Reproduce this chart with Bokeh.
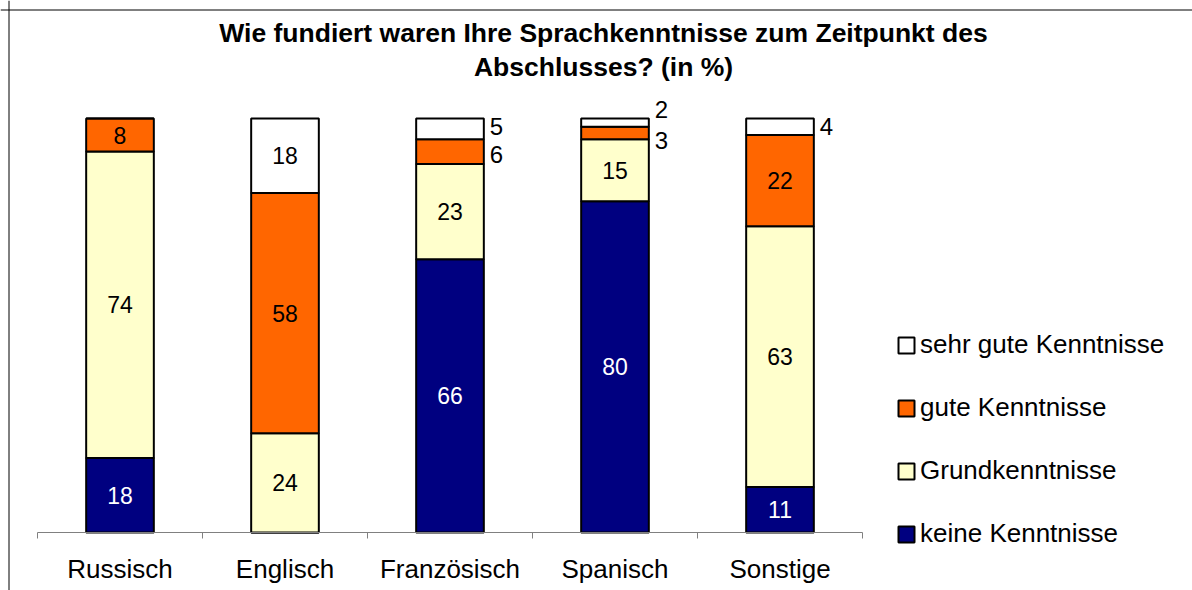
from bokeh.plotting import figure
from bokeh.models import (Range1d, FixedTicker, Label, Legend, LegendItem, ColumnDataSource,
                          LinearAxis, Span)
from bokeh.core.properties import value
from bokeh.embed import file_html
from bokeh.resources import INLINE

# ---- data ----
categories = ["Russisch", "Englisch", "Französisch", "Spanisch", "Sonstige"]
keine = [18, 0, 66, 80, 11]
grund = [74, 24, 23, 15, 63]
gute = [8, 58, 6, 3, 22]
sehr_gute = [0, 18, 5, 2, 4]
series_keys = ["keine", "grund", "gute", "sehr"]
series_names = ["keine Kenntnisse", "Grundkenntnisse", "gute Kenntnisse", "sehr gute Kenntnisse"]
title_lines = ["Wie fundiert waren Ihre Sprachkenntnisse zum Zeitpunkt des", "Abschlusses? (in %)"]

# ---- styles / layout (pixels) ----
W, H = 1192, 590
colors = ["#000080", "#FFFFCC", "#FF6600", "#FFFFFF"]
FONT = "Liberation Sans"
BAR_W = 0.41
AXIS_LEFT_PX = 37      # left end of category axis
CAT_PX = 165           # width of one category slot
BASE_PX = 532          # baseline (0 %)
TOP_PX = 118           # 100 %
# pixel nudges for small labels written beside the bars (category index, series index)
nudge = {(3, 3): -13, (3, 2): 8, (2, 2): 3, (2, 3): -2}

n = len(categories)
xs = list(range(1, n + 1))
series = [keine, grund, gute, sehr_gute]

x0 = 0.5 - AXIS_LEFT_PX / CAT_PX
x1 = x0 + W / CAT_PX
ppu = (BASE_PX - TOP_PX) / 100.0
y0 = -(H - BASE_PX) / ppu
y1 = BASE_PX / ppu

p = figure(width=W, height=H, x_range=Range1d(x0, x1), y_range=Range1d(y0, y1),
           output_backend="svg", toolbar_location=None,
           x_axis_location=None, y_axis_location=None,
           min_border=0, min_border_left=0, min_border_right=0,
           min_border_top=0, min_border_bottom=0)
p.xgrid.visible = False
p.ygrid.visible = False
p.outline_line_color = None

# chart border (top and left)
p.add_layout(Span(location=8.5, location_units="screen", dimension="height",
                  line_color="black", line_width=1))
p.add_layout(Span(location=H - 9.5, location_units="screen", dimension="width",
                  line_color="black", line_width=1))

src = ColumnDataSource(dict(x=xs, keine=keine, grund=grund, gute=gute, sehr=sehr_gute))
rs = p.vbar_stack(series_keys, x="x", width=BAR_W, source=src, fill_color=colors,
                  line_color="black", line_width=2)

# value labels
in_x, in_y, in_t, in_c = [], [], [], []
out_x, out_y, out_t, out_dy = [], [], [], []
for j, x in enumerate(xs):
    base = 0
    for k, s in enumerate(series):
        v = s[j]
        if v > 0:
            mid = base + v / 2
            if v >= 8:
                in_x.append(x); in_y.append(mid); in_t.append(str(v))
                in_c.append("white" if k == 0 else "black")
            else:
                out_x.append(x + BAR_W / 2); out_y.append(mid); out_t.append(str(v))
                out_dy.append(nudge.get((j, k), 0))
        base += v

p.text(x=in_x, y=in_y, text=in_t, text_color=in_c, text_align="center",
       text_baseline="middle", text_font=value(FONT), text_font_size="23px")
p.text(x=out_x, y=out_y, text=out_t, y_offset=out_dy, x_offset=6, text_color="black",
       text_align="left", text_baseline="middle", text_font=value(FONT), text_font_size="24px")

# category axis at the baseline
ax = LinearAxis(fixed_location=0, bounds=(0.5, n + 0.5))
ax.ticker = FixedTicker(ticks=xs, minor_ticks=[x - 0.5 for x in xs] + [xs[-1] + 0.5])
ax.major_label_overrides = {x: c for x, c in zip(xs, categories)}
ax.major_tick_line_color = None
ax.major_tick_out = 6
ax.major_tick_in = 0
ax.minor_tick_out = 6
ax.minor_tick_in = 0
ax.minor_tick_line_color = "#808080"
ax.axis_line_color = "#808080"
ax.major_label_standoff = 15
ax.major_label_text_font = FONT
ax.major_label_text_font_size = "26px"
ax.major_label_text_color = "black"
p.add_layout(ax, "below")

# legend
items = [LegendItem(label=series_names[i], renderers=[rs[i]]) for i in reversed(range(len(rs)))]
legend = Legend(items=items, location=(896, H - 549), padding=0, margin=0,
                background_fill_alpha=0, border_line_color=None,
                glyph_width=20, glyph_height=20, label_standoff=4,
                label_height=30, spacing=32,
                label_text_font=FONT, label_text_font_size="26px",
                label_text_color="black")
p.add_layout(legend, "center")

# title
for i, line in enumerate(title_lines):
    p.add_layout(Label(x=603, y=H - 32 - 34 * i, x_units="screen", y_units="screen", text=line,
                       text_align="center", text_baseline="middle",
                       text_font=FONT, text_font_style="bold",
                       text_font_size="26.5px", text_color="black"))

open("out.html", "w").write(file_html(p, INLINE))
